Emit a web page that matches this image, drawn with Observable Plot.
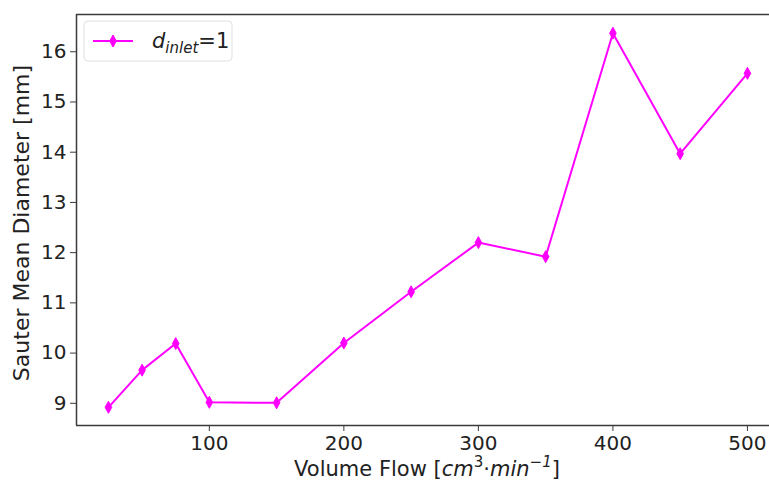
<!DOCTYPE html>
<html>
<head>
<meta charset="utf-8">
<script src="https://cdn.jsdelivr.net/npm/d3@7"></script>
<script src="https://cdn.jsdelivr.net/npm/@observablehq/plot@0.6"></script>
<style>
  html, body { margin: 0; padding: 0; background: white; overflow: hidden; }
</style>
</head>
<body>
<div id="chart"></div>
<script>
// Volume flow [cm^3/min] and measured Sauter mean diameter [mm]
const flow = [25, 50, 75, 100, 150, 200, 250, 300, 350, 400, 450, 500];
const diameter = [8.92, 9.66, 10.19, 9.02, 9.01, 10.2, 11.22, 12.2, 11.92, 16.37, 13.97, 15.57];
const xTicks = [100, 200, 300, 400, 500];
const yTicks = [9, 10, 11, 12, 13, 14, 15, 16];

const data = flow.map((f, i) => ({flow: f, d: diameter[i]}));

const xDomain = [1.25, 516.4];
const yDomain = [8.558, 16.742];
const magenta = "#ff00ff";
const spine = "#3a3a3a";
const font = "DejaVu Sans";

// Thin diamond marker
const thinDiamond = {
  draw(context, size) {
    const r = Math.sqrt(size / Math.PI);
    const w = r * 0.55;
    context.moveTo(0, -r);
    context.lineTo(w, 0);
    context.lineTo(0, r);
    context.lineTo(-w, 0);
    context.closePath();
  }
};

const svg = Plot.plot({
  width: 769,
  height: 482,
  marginLeft: 76,
  marginRight: 0,
  marginTop: 14,
  marginBottom: 57,
  style: {fontFamily: font, fontSize: "20px", background: "white", color: "#222", overflow: "hidden"},
  x: {domain: xDomain},
  y: {domain: yDomain},
  marks: [
    Plot.axisX({ticks: xTicks, tickSize: 6, tickPadding: 4, label: null, stroke: spine}),
    Plot.axisY({ticks: yTicks, tickSize: 6, tickPadding: 4, label: null, stroke: spine}),
    Plot.ruleX([xDomain[0]], {stroke: spine, strokeWidth: 1.5}),
    Plot.ruleY([yDomain[0]], {stroke: spine, strokeWidth: 1.5}),
    Plot.ruleY([yDomain[1]], {stroke: spine, strokeWidth: 1.5}),
    Plot.line(data, {x: "flow", y: "d", stroke: magenta, strokeWidth: 2}),
    Plot.dot(data, {x: "flow", y: "d", symbol: thinDiamond, r: 6, fill: magenta, stroke: magenta, strokeWidth: 1})
  ]
});

const s = d3.select(svg);

// Axis titles with math-style italic units
s.append("text")
  .attr("transform", "translate(23,223) rotate(-90)")
  .attr("text-anchor", "middle")
  .attr("dominant-baseline", "middle")
  .attr("font-family", font).attr("font-size", 22).attr("fill", "#222")
  .text("Sauter Mean Diameter [mm]");

const xl = s.append("text")
  .attr("x", 427).attr("y", 476)
  .attr("text-anchor", "middle")
  .attr("font-family", font).attr("font-size", 21).attr("fill", "#222");
xl.append("tspan").text("Volume Flow [");
xl.append("tspan").attr("font-style", "italic").text("cm");
xl.append("tspan").attr("font-size", 15).attr("baseline-shift", "super").text("3");
xl.append("tspan").text("·");
xl.append("tspan").attr("font-style", "italic").text("min");
xl.append("tspan").attr("font-size", 15).attr("baseline-shift", "super").attr("font-style", "italic").text("−1");
xl.append("tspan").text("]");

// Legend
const lg = s.append("g");
lg.append("rect")
  .attr("x", 84).attr("y", 21).attr("width", 148).attr("height", 40).attr("rx", 4)
  .attr("fill", "white").attr("fill-opacity", 0.8).attr("stroke", "#e0e0e0");
lg.append("line")
  .attr("x1", 93).attr("x2", 133).attr("y1", 41).attr("y2", 41)
  .attr("stroke", magenta).attr("stroke-width", 2);
lg.append("path")
  .attr("transform", "translate(113,41)")
  .attr("d", d3.symbol(thinDiamond, 6 * 6 * Math.PI)())
  .attr("fill", magenta).attr("stroke", magenta);
const lt = lg.append("text")
  .attr("x", 152).attr("y", 48)
  .attr("text-anchor", "start")
  .attr("font-family", font).attr("font-size", 21).attr("fill", "#222");
lt.append("tspan").attr("font-style", "italic").text("d");
lt.append("tspan").attr("font-style", "italic").attr("font-size", 15).attr("dy", 5).text("inlet");
lt.append("tspan").attr("dy", -5).text("=1");

document.getElementById("chart").appendChild(svg);
</script>
</body>
</html>
